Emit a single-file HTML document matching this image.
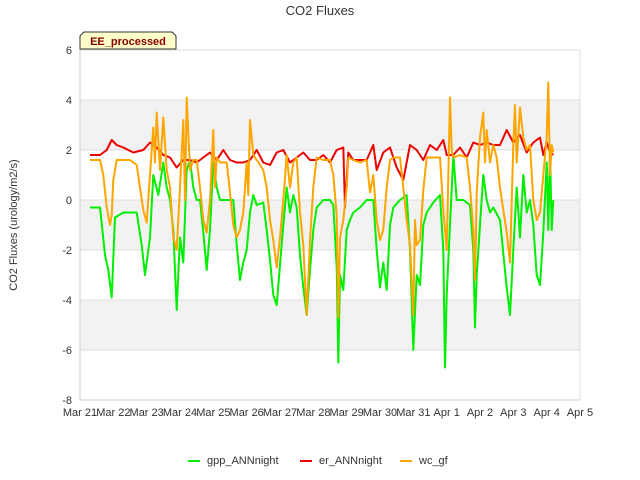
<!DOCTYPE html>
<html><head><meta charset="utf-8"><style>
body{margin:0;background:#fff;font-family:"Liberation Sans",sans-serif}
</style></head><body>
<svg id="chart" width="640" height="480" style="display:block">
<rect width="640" height="480" fill="#fff"/>
<text x="320" y="15" text-anchor="middle" font-size="13" fill="#333">CO2 Fluxes</text>
<g id="grid"></g>
<g id="series"></g>
<g id="axes"></g>
<text transform="translate(17,225) rotate(-90)" text-anchor="middle" font-size="11" fill="#333">CO2 Fluxes (urology/m2/s)</text>
<g>
<path d="M84,32 L172,32 L176,36 L176,49 L80,49 L80,36 Z" fill="#ffffcc" stroke="#333" stroke-width="1"/>
<text x="128" y="45" text-anchor="middle" font-size="11" font-weight="bold" fill="#8b0000">EE_processed</text>
</g>
<g id="legend"></g>
</svg>
<script>
const xTickLabels=["Mar 21","Mar 22","Mar 23","Mar 24","Mar 25","Mar 26","Mar 27","Mar 28","Mar 29","Mar 30","Mar 31","Apr 1","Apr 2","Apr 3","Apr 4","Apr 5"];
const yTicks=[-8,-6,-4,-2,0,2,4,6];
const gppT=[0.3,0.5,0.6,0.75,0.85,0.95,1.05,1.3,1.5,1.7,1.85,1.95,2.1,2.2,2.35,2.5,2.6,2.7,2.8,2.9,3.0,3.1,3.2,3.3,3.4,3.5,3.6,3.7,3.8,3.9,4.0,4.1,4.2,4.4,4.6,4.7,4.8,4.9,5.0,5.1,5.2,5.3,5.5,5.6,5.7,5.8,5.9,6.0,6.1,6.2,6.3,6.4,6.5,6.6,6.7,6.8,6.9,7.0,7.1,7.3,7.5,7.6,7.7,7.75,7.8,7.9,8.0,8.1,8.2,8.4,8.6,8.8,8.9,9.0,9.1,9.2,9.3,9.4,9.6,9.8,9.9,10.0,10.1,10.2,10.3,10.4,10.6,10.8,10.9,10.95,11.0,11.1,11.2,11.3,11.5,11.7,11.8,11.85,11.9,12.0,12.1,12.2,12.3,12.4,12.6,12.8,12.9,13.0,13.1,13.2,13.3,13.4,13.5,13.6,13.7,13.8,13.9,14.0,14.05,14.1,14.15,14.2];
const gppV=[-0.3,-0.3,-0.3,-2.2,-2.8,-3.9,-0.7,-0.5,-0.5,-0.5,-1.8,-3,-1.5,1,0.2,1.5,0.5,0,-1.2,-4.4,-1.5,-2.5,1.2,1.6,0.5,0,0,-1.3,-2.8,-1.2,1.5,0.5,0,0,0,-1.8,-3.2,-2.5,-2,-0.5,0.2,-0.2,-0.1,-1.2,-2.4,-3.8,-4.2,-2.6,-1,0.5,-0.5,0.2,-0.3,-2.2,-3.5,-4.6,-2.8,-1.2,-0.3,0,0,-0.2,-2.7,-6.5,-3,-3.6,-1.2,-0.8,-0.5,-0.3,0,0,-2,-3.5,-2.5,-3.6,-1,-0.3,0,0.2,-2,-6,-3,-3.4,-1,-0.5,-0.1,0.2,-2,-6.7,-3.8,-1,1.8,0,0,-0.2,-2,-5.1,-3,-1,1,0,-0.5,-0.3,-0.8,-3.5,-4.6,-2,0.5,-1.5,1,-0.5,0,-1,-3,-3.4,-1.3,1.5,-1.2,2,-1.2,0];
const erT=[0.3,0.6,0.8,0.95,1.1,1.3,1.6,1.9,2.1,2.3,2.5,2.7,2.9,3.1,3.3,3.5,3.7,3.9,4.1,4.3,4.5,4.7,4.9,5.1,5.3,5.5,5.7,5.9,6.1,6.3,6.5,6.7,6.9,7.1,7.3,7.5,7.7,7.9,7.95,8.05,8.2,8.4,8.6,8.8,8.9,9.1,9.3,9.5,9.7,9.9,10.1,10.3,10.5,10.7,10.9,11.0,11.2,11.4,11.6,11.8,12.0,12.2,12.4,12.6,12.8,13.0,13.2,13.4,13.6,13.8,13.9,14.0,14.1,14.2];
const erV=[1.8,1.8,2.0,2.4,2.2,2.1,1.9,2.0,2.3,2.1,1.8,1.7,1.3,1.6,1.6,1.5,1.7,1.9,1.6,2.0,1.6,1.5,1.5,1.6,2.0,1.5,1.4,1.9,2.0,1.5,1.7,1.9,1.6,1.6,1.8,1.5,2.0,2.1,-0.3,1.9,1.6,1.6,1.6,2.2,1.2,1.9,2.1,1.3,0.8,2.2,2.0,1.6,2.2,2.0,2.4,1.8,1.8,2.1,1.7,2.3,2.2,2.3,2.2,2.2,2.8,2.3,2.6,1.9,2.3,2.5,1.8,2.3,1.9,1.8];
const wcT=[0.3,0.6,0.7,0.8,0.9,0.95,1.0,1.1,1.3,1.5,1.7,1.8,1.9,2.0,2.1,2.2,2.25,2.3,2.4,2.5,2.6,2.7,2.8,2.9,3.0,3.1,3.15,3.2,3.3,3.4,3.5,3.6,3.7,3.8,3.9,4.0,4.05,4.1,4.2,4.4,4.5,4.6,4.7,4.8,4.9,5.0,5.05,5.1,5.2,5.3,5.5,5.6,5.7,5.8,5.9,6.0,6.1,6.2,6.3,6.4,6.5,6.6,6.7,6.8,6.9,7.0,7.1,7.3,7.5,7.6,7.7,7.75,7.8,7.9,8.0,8.05,8.2,8.4,8.6,8.7,8.8,8.9,9.0,9.1,9.2,9.3,9.4,9.6,9.7,9.8,9.9,10.0,10.05,10.1,10.2,10.3,10.4,10.6,10.8,10.9,11.0,11.1,11.15,11.2,11.4,11.6,11.7,11.8,11.85,11.9,12.0,12.1,12.15,12.2,12.3,12.4,12.5,12.6,12.7,12.8,12.9,13.0,13.05,13.1,13.2,13.3,13.4,13.5,13.6,13.7,13.8,13.9,14.0,14.05,14.1,14.15,14.2];
const wcV=[1.6,1.6,1.0,-0.3,-1.0,-0.6,0.8,1.6,1.6,1.6,1.4,0.5,-0.4,-0.9,1.0,2.9,1.5,3.5,1.2,3.3,1.2,0.5,-1.5,-2.0,0.5,3.2,0,4.1,1.2,1.6,1.6,0.5,-0.8,-1.3,0,2.8,0.5,1.7,1.5,1.5,0.3,-1,-1.5,-1.2,-0.5,1.5,0.2,3.2,1.8,1.6,1.2,0.5,-0.8,-1.6,-2.7,-1.5,0,1.8,0.5,1.5,1.7,-0.5,-1.8,-4.6,-1.6,0.5,1.7,1.6,1.6,1.0,-0.6,-4.7,-1.5,-0.8,0.5,1.7,1.6,1.5,1.6,0.3,1.0,-0.8,-1.6,-1.2,0.5,1.6,1.7,1.7,0.5,-0.8,-1.8,-4.6,-0.8,-1.8,-1.6,0.4,1.7,1.7,1.7,-0.4,-2,4.1,2,1.7,1.8,1.7,0.5,-1.2,-3.2,0.3,2.5,3.5,1.5,2.8,1.5,2.2,1.7,0.5,-0.4,-1.3,-2.5,2.2,3.8,1.5,3.7,2.5,2,2.2,0,-0.8,-0.5,1,2.5,4.7,1,2.2,1.9];
const L=80,R=580,T=50,B=400,yMin=-8,yMax=6,dMax=15;
const xs=d=>L+(R-L)*d/dMax;
const ys=v=>B-(B-T)*(v-yMin)/(yMax-yMin);
const NS="http://www.w3.org/2000/svg";
function mk(tag,attrs,parent){const e=document.createElementNS(NS,tag);for(const k in attrs)e.setAttribute(k,attrs[k]);parent.appendChild(e);return e;}
const grid=document.getElementById('grid'),axes=document.getElementById('axes'),ser=document.getElementById('series'),leg=document.getElementById('legend');
for(let i=0;i<yTicks.length-1;i++){
  if(i%2===0){const r=mk('rect',{x:L,y:ys(yTicks[i+1]+0)+0,width:R-L,height:ys(yTicks[i])-ys(yTicks[i+1])},grid);}
}
// bands: gray between -6..-4, -2..0, 2..4
[[-6,-4],[-2,0],[2,4]].forEach(b=>{const r=mk('rect',{x:L,y:ys(b[1]),width:R-L,height:ys(b[0])-ys(b[1]),fill:'#f2f2f2'},grid);});
grid.querySelectorAll('rect:not([fill])').forEach(r=>r.remove());
yTicks.forEach(v=>{
  const l=mk('line',{x1:L,x2:R,y1:ys(v),y2:ys(v),stroke:'#ddd','stroke-width':1},grid);
  
  const t=mk('text',{x:L-8,y:ys(v)+4,'text-anchor':'end','font-size':11,fill:'#333'},axes);t.textContent=v;
  
});
mk('line',{x1:L,x2:L,y1:T,y2:B,stroke:'#ccc'},axes);
mk('line',{x1:R,x2:R,y1:T,y2:B,stroke:'#ddd'},axes);
mk('line',{x1:L,x2:R,y1:B,y2:B,stroke:'#ccc'},axes);
xTickLabels.forEach((s,i)=>{
  const t=mk('text',{x:xs(i),y:B+16,'text-anchor':'middle','font-size':11,fill:'#333'},axes);t.textContent=s;
  
});
function line(T_,V,color,name){
  const d=T_.map((t,i)=>(i?'L':'M')+xs(t).toFixed(1)+','+ys(V[i]).toFixed(1)).join('');
  const p=mk('path',{d:d,fill:'none',stroke:color,'stroke-width':2,'stroke-linejoin':'round'},ser);
  
  
}
line(gppT,gppV,'#00ee00','gpp-annnight-line');
line(erT,erV,'#ee0000','er-annnight-line');
line(wcT,wcV,'#ffa500','wc-gf-line');
[['gpp_ANNnight','#00ee00',188],['er_ANNnight','#ee0000',300],['wc_gf','#ffa500',400]].forEach(e=>{
  const g=mk('g',{},leg);
  
  
  mk('line',{x1:e[2],x2:e[2]+12,y1:461,y2:461,stroke:e[1],'stroke-width':2},g);
  const t=mk('text',{x:e[2]+19,y:464,'font-size':11,fill:'#333'},g);t.textContent=e[0];
});
</script>
</body></html>
